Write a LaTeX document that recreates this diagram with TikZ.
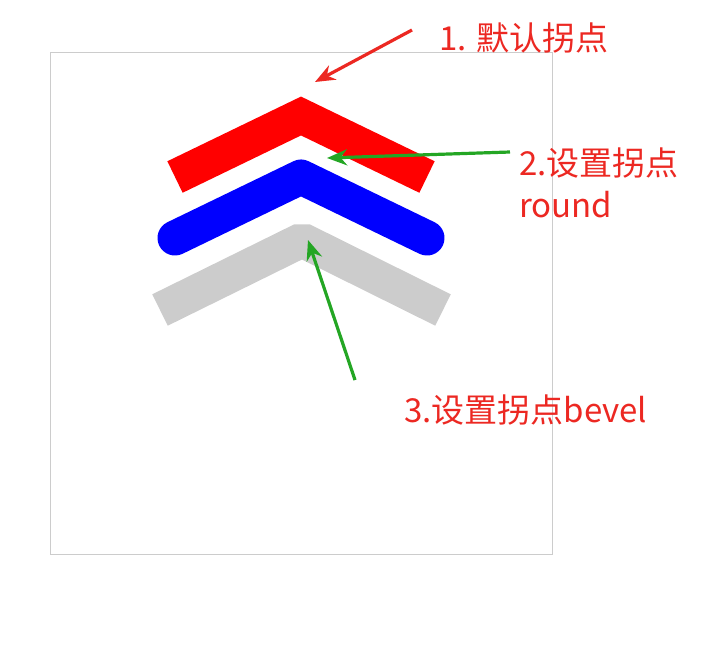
\documentclass[tikz,border=0pt]{standalone}
\usepackage{fontspec}
\newfontfamily\cjk{Noto Sans CJK SC}
\usetikzlibrary{arrows.meta}
\definecolor{notered}{RGB}{236,40,34}
\definecolor{notegreen}{RGB}{36,166,36}
\definecolor{framegray}{RGB}{204,204,204}
\tikzset{
  chevron/.style={line width=35pt},
  note/.style={text=notered,font=\cjk\fontsize{33}{42}\selectfont,anchor=west,inner sep=0pt,align=left},
  redptr/.style={draw=notered,line width=3.2pt,-{Stealth[length=20pt,width=16pt]}},
  greenptr/.style={draw=notegreen,line width=3.2pt,-{Stealth[length=20pt,width=16pt]}},
}
\begin{document}
\begin{tikzpicture}[x=1pt,y=-1pt]
  \useasboundingbox (0,0) rectangle (717,646);
  % canvas frame
  \draw[framegray,line width=1pt] (50,52) rectangle (552,554);
  % three joins
  \draw[chevron,red,line join=miter] (175,177) -- (301,116) -- (427,177);
  \draw[chevron,blue,line join=round,line cap=round] (175,238) -- (301,177) -- (427,238);
  \draw[chevron,framegray,line join=bevel] (160,310) -- (302,240) -- (443,310);
  % notes
  \node[note] (miter) at (439,38) {1. 默认拐点};
  \node[note] (round) at (519,183) {2.设置拐点\\round};
  \node[note] (bevel) at (404,410) {3.设置拐点bevel};
  \coordinate (miterfrom) at (412,30);
  \coordinate (miterto) at (315,82);
  \coordinate (roundfrom) at (510,152);
  \coordinate (roundto) at (327,158);
  \coordinate (bevelfrom) at (355,380);
  \coordinate (bevelto) at (308,240);
  \draw[redptr] (miterfrom) -- (miterto);
  \draw[greenptr] (roundfrom) -- (roundto);
  \draw[greenptr] (bevelfrom) -- (bevelto);
\end{tikzpicture}
\end{document}
